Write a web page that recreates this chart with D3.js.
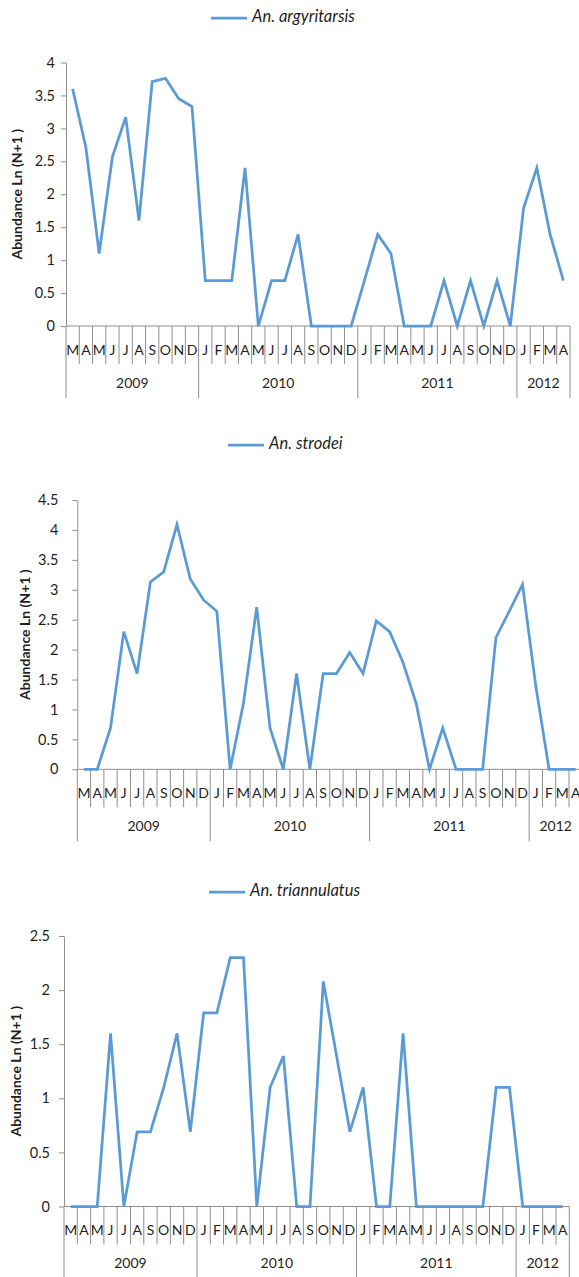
<!DOCTYPE html>
<html>
<head>
<meta charset="utf-8">
<script src="https://cdn.jsdelivr.net/npm/d3@7"></script>
<style>
  body { margin: 0; background: #fff; }
  svg { display: block; }
  text { font-family: Lato, "Open Sans", sans-serif; }
</style>
</head>
<body>
<svg id="chart" width="579" height="1277"></svg>
<script>
// Monthly sampling, March 2009 – April 2012
const months = ["M","A","M","J","J","A","S","O","N","D",
                "J","F","M","A","M","J","J","A","S","O","N","D",
                "J","F","M","A","M","J","J","A","S","O","N","D",
                "J","F","M","A"];
const years = ["2009", "2010", "2011", "2012"];
const monthsPerYear = [10, 12, 12, 4];

// Abundance, Ln(N+1)
const argyritarsis = [3.6, 2.71, 1.1, 2.57, 3.17, 1.6, 3.71, 3.76, 3.45, 3.33,
                      0.69, 0.69, 0.69, 2.4, 0, 0.69, 0.69, 1.39, 0, 0, 0, 0,
                      0.69, 1.39, 1.1, 0, 0, 0, 0.69, 0, 0.69, 0, 0.69, 0,
                      1.79, 2.4, 1.39, 0.69];
const strodei = [0, 0, 0.69, 2.3, 1.6, 3.13, 3.3, 4.09, 3.18, 2.83,
                 2.64, 0, 1.1, 2.71, 0.69, 0, 1.6, 0, 1.6, 1.6, 1.95, 1.6,
                 2.48, 2.3, 1.79, 1.1, 0, 0.69, 0, 0, 0, 2.2, 2.64, 3.09,
                 1.39, 0, 0, 0];
const triannulatus = [0, 0, 0, 1.6, 0, 0.69, 0.69, 1.1, 1.6, 0.69,
                      1.79, 1.79, 2.3, 2.3, 0, 1.1, 1.39, 0, 0, 2.08, 1.39, 0.69,
                      1.1, 0, 0, 1.6, 0, 0, 0, 0, 0, 0, 1.1, 1.1,
                      0, 0, 0, 0];

const yMaxima = [4, 4.5, 2.5];
const seriesNames = ["An. argyritarsis", "An. strodei", "An. triannulatus"];
const yTitle = "Abundance Ln (N+1 )";

const LINE = "#5b9bd5";
const AXIS = "#8f8f8f";
const TEXT = "#1f1f1f";

const svg = d3.select("#chart");

// panel layout
const panels = [
  { data: argyritarsis, x0: 66,   x1: 570,   yTop: 62.5, yBase: 326,    legendY: 18,  legendX: 211, titleX: 18, labelPad: 6 },
  { data: strodei,      x0: 77.3, x1: 582.3, yTop: 500,  yBase: 769.3,  legendY: 445, legendX: 228, titleX: 26, labelPad: 14 },
  { data: triannulatus, x0: 64,   x1: 569.3, yTop: 936,  yBase: 1206.5, legendY: 892, legendX: 209, titleX: 17, labelPad: 9 }
];

panels.forEach((p, k) => {
  const g = svg.append("g");
  const idx = d3.range(months.length);

  const x = d3.scaleBand().domain(idx).range([p.x0, p.x1]).padding(0);
  const y = d3.scaleLinear().domain([0, yMaxima[k]]).range([p.yBase, p.yTop]);

  // y axis with ticks every 0.5
  const yAxis = d3.axisLeft(y)
    .tickValues(d3.range(0, yMaxima[k] + 0.001, 0.5))
    .tickFormat(d => String(d))
    .tickSize(5)
    .tickSizeOuter(0)
    .tickPadding(p.labelPad);
  const ya = g.append("g").attr("transform", `translate(${p.x0},0)`).call(yAxis);
  ya.select(".domain").attr("stroke", AXIS);
  ya.selectAll(".tick line").attr("stroke", AXIS);
  ya.selectAll(".tick text")
    .attr("fill", TEXT)
    .style("font-size", "14.5px")
    .style("font-family", "Lato, 'Open Sans', sans-serif");

  // category axis baseline
  g.append("line")
    .attr("x1", p.x0).attr("x2", p.x1)
    .attr("y1", p.yBase).attr("y2", p.yBase)
    .attr("stroke", AXIS);

  // month separators, longer at year boundaries
  const yearStarts = d3.cumsum([0, ...monthsPerYear]);
  const bounds = d3.range(months.length + 1);
  g.selectAll("line.msep").data(bounds).join("line")
    .attr("class", "msep")
    .attr("x1", i => i < months.length ? x(i) : p.x1)
    .attr("x2", i => i < months.length ? x(i) : p.x1)
    .attr("y1", p.yBase)
    .attr("y2", i => yearStarts.includes(i) ? p.yBase + 72 : p.yBase + 38)
    .attr("stroke", AXIS);

  // month labels
  g.selectAll("text.mlab").data(idx).join("text")
    .attr("class", "mlab")
    .attr("x", i => x(i) + x.bandwidth() / 2)
    .attr("y", p.yBase + 25)
    .attr("text-anchor", "middle")
    .attr("dominant-baseline", "middle")
    .attr("fill", TEXT)
    .style("font-size", "14px")
    .text(i => months[i]);

  // year labels
  g.selectAll("text.ylab").data(years).join("text")
    .attr("class", "ylab")
    .attr("x", (d, j) => {
      const a = x(yearStarts[j]);
      const b = yearStarts[j + 1] < months.length ? x(yearStarts[j + 1]) : p.x1;
      return (a + b) / 2;
    })
    .attr("y", p.yBase + 58)
    .attr("text-anchor", "middle")
    .attr("dominant-baseline", "middle")
    .attr("fill", TEXT)
    .style("font-size", "14px")
    .text(d => d);

  // series line
  const line = d3.line()
    .x((d, i) => x(i) + x.bandwidth() / 2)
    .y(d => y(d));
  g.append("path")
    .datum(p.data)
    .attr("d", line)
    .attr("fill", "none")
    .attr("stroke", LINE)
    .attr("stroke-width", 2.75)
    .attr("stroke-linejoin", "miter");

  // y title
  g.append("text")
    .attr("transform", `translate(${p.titleX},${(p.yTop + p.yBase) / 2}) rotate(-90)`)
    .attr("text-anchor", "middle")
    .attr("dominant-baseline", "middle")
    .attr("fill", TEXT)
    .style("font-size", "14px")
    .style("font-weight", "bold")
    .text(yTitle);

  // legend
  const lg = g.append("g").attr("transform", `translate(${p.legendX},${p.legendY})`);
  lg.append("line")
    .attr("x1", 0).attr("x2", 36).attr("y1", 0).attr("y2", 0)
    .attr("stroke", LINE).attr("stroke-width", 2.75);
  lg.append("text")
    .attr("x", 41).attr("y", 0)
    .attr("dominant-baseline", "middle")
    .attr("fill", TEXT)
    .style("font-size", "16.5px")
    .style("font-style", "italic")
    .text(seriesNames[k]);
});
</script>
</body>
</html>
